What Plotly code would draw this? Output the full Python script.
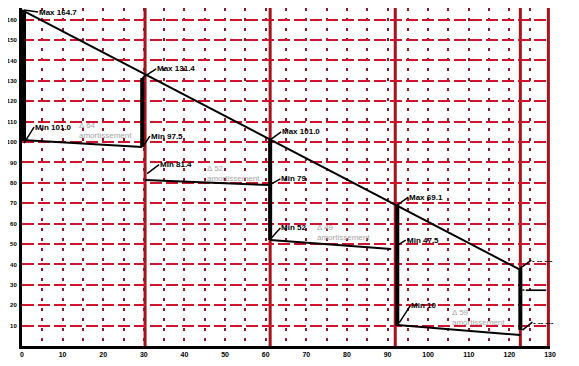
import plotly.graph_objects as go

# ---------------- data ----------------
x_ticks = list(range(0, 131, 10))
y_ticks = list(range(10, 161, 10))

# declining reference line
diag_x = [0.0, 122.7]
diag_y = [164.7, 37.3]

# period boundaries (start of each period)
period_x = [0.5, 29.6, 61.1, 92.4, 122.7]
peak_val = [164.7, 131.4, 101.0, 69.1, 38.2]
drop_val = [101.0, 97.5, 52.0, 9.8, 7.8]

# lower (floor) line of each period
low_x0 = [0.0, 30.3, 61.1, 92.4]
low_x1 = [29.6, 61.1, 90.9, 122.7]
low_y0 = [101.0, 81.4, 52.0, 10.3]
low_y1 = [97.5, 78.9, 47.5, 5.4]

boundary_x = [30.3, 61.1, 91.9, 122.7, 129.6]

# annotation texts
top_labels = ["Max 164.7", "Max 131.4", "Max 101.0", "Max 69.1", "- -- ---"]
gap_labels = ["Δ 64<br>amortissement", "Δ 52<br>amortissement",
              "Δ 49<br>amortissement", "Δ 59<br>amortissement"]
gap_x = [13.5, 45.1, 72.2, 105.4]
gap_y = [105.5, 84.5, 55.5, 13.8]

# ---------------- figure ----------------
fig = go.Figure()

for bx in boundary_x:
    fig.add_shape(type="line", x0=bx, x1=bx, y0=0, y1=1, yref="paper",
                  line=dict(color="#a3141c", width=3), layer="below")

fig.add_trace(go.Scatter(x=diag_x, y=diag_y, mode="lines",
                         line=dict(color="black", width=2), showlegend=False))

vx, vy = [], []
for px, pk, dr in zip(period_x, peak_val, drop_val):
    vx += [px, px, None]
    vy += [pk, dr, None]
fig.add_trace(go.Scatter(x=vx, y=vy, mode="lines",
                         line=dict(color="black", width=4), showlegend=False))

lx, ly = [], []
for a, b, c, d in zip(low_x0, low_x1, low_y0, low_y1):
    lx += [a, b, None]
    ly += [c, d, None]
fig.add_trace(go.Scatter(x=lx, y=ly, mode="lines",
                         line=dict(color="black", width=2), showlegend=False))


def lab(x, y, text, ax, ay, size=8):
    fig.add_annotation(x=x, y=y, text="<b>" + text + "</b>", showarrow=True,
                       arrowhead=0, arrowwidth=1.5, arrowcolor="black",
                       ax=ax, ay=ay, xanchor="left", yanchor="middle",
                       font=dict(family="Liberation Sans", size=size, color="black"),
                       borderpad=0)


# top labels at peaks
offs = [(14, 2), (14, -9), (11, -8), (11, -8), (11, -8)]
for px, pk, t, (ox, oy) in zip(period_x, peak_val, top_labels, offs):
    lab(px, pk, t, ox, oy)

# floor labels
lab(0.5, 99.5, "Min 101.0", 10, -16)
lab(30.0, 98.5, "Min 97.5", 6, -9)
lab(30.8, 84.5, "Min 81.4", 12, -9)
lab(61.4, 79.5, "Min 79", 9, -5)
lab(61.4, 53.0, "Min 52", 9, -10)
lab(92.5, 49.5, "Min 47.5", 8, -5)
lab(92.9, 11.5, "Min 10", 11, -17)
lab(123.2, 27.4, "━━━━", 2, 0)
lab(123.2, 7.8, "- -- ---", 10, -8)

for gx, gy, t in zip(gap_x, gap_y, gap_labels):
    fig.add_annotation(x=gx, y=gy, text=t, showarrow=False, xanchor="left",
                       yanchor="middle", align="left",
                       font=dict(family="Liberation Sans", size=8, color="#a4a4a4"))

fig.update_xaxes(range=[0, 130], tickvals=x_ticks, ticktext=[f"<b>{v}</b>" for v in x_ticks],
                 tickfont=dict(family="Liberation Sans", size=7, color="black"),
                 showline=True, linecolor="black", linewidth=3,
                 showgrid=True, gridcolor="#8b1a2a", gridwidth=2, griddash="3px,7px",
                 minor=dict(dtick=5, tick0=0, showgrid=True, gridcolor="#8b1a2a",
                            gridwidth=2, griddash="3px,7px"),
                 zeroline=False, ticks="", automargin=False, fixedrange=True)
fig.update_yaxes(range=[0, 165.7], tickvals=y_ticks, ticktext=[f"<b>{v}</b>" for v in y_ticks],
                 tickfont=dict(family="Liberation Sans", size=6, color="black"),
                 ticklabelstandoff=1,
                 showline=True, linecolor="black", linewidth=3,
                 showgrid=True, gridcolor="#d0142c", gridwidth=2, griddash="12px,4px",
                 zeroline=False, ticks="", automargin=False, fixedrange=True)

fig.update_layout(width=571, height=358, margin=dict(l=14, r=29, t=0, b=20),
                  plot_bgcolor="white", paper_bgcolor="white", showlegend=False)

fig.write_html("out.html")
